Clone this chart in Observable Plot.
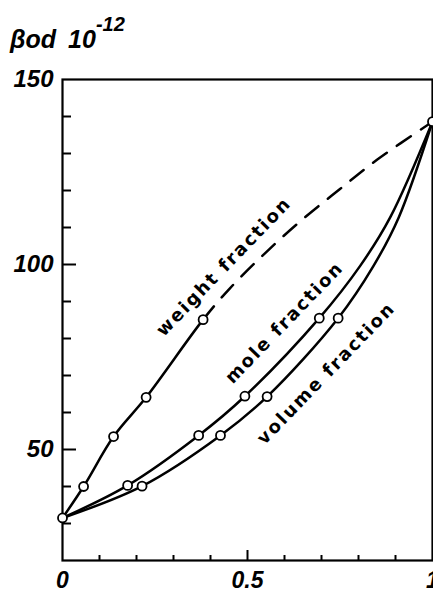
<!DOCTYPE html>
<html>
<head>
<meta charset="utf-8">
<script src="https://cdn.jsdelivr.net/npm/d3@7"></script>
<script src="https://cdn.jsdelivr.net/npm/@observablehq/plot@0.6"></script>
<style>
  body { margin: 0; background: #fff; }
  #wrap { position: relative; width: 433px; height: 599px; overflow: hidden; }
  #title { position: absolute; left: 10px; top: 25px; line-height: 1; white-space: nowrap;
           font: italic bold 25px "Liberation Sans", "DejaVu Sans", sans-serif; color: #000; }
  #title .num { margin-left: 12px; }
  #title .sup { font-size: 20px; position: relative; top: -17px; }
</style>
</head>
<body>
<div id="wrap"><div id="title">βod<span class="num">10</span><span class="sup">-12</span></div></div>
<script>
// ---- data ----
// weight fraction: measured part (solid) then dashed continuation to pure component
const weightX = [0, 0.057, 0.138, 0.226, 0.38];
const weightY = [31.5, 40.0, 53.5, 64.1, 85.1];
const weightDashX = [0.38, 0.45, 0.55, 0.65, 0.75, 0.85, 1];
const weightDashY = [85.1, 93.3, 103.3, 112.3, 120.4, 128.3, 138.6];
// mole fraction curve
const moleX = [0, 0.176, 0.368, 0.493, 0.694, 0.805, 0.886, 1];
const moleY = [31.5, 40.3, 53.8, 64.4, 85.5, 99.7, 112.8, 138.6];
// volume fraction curve
const volumeX = [0, 0.215, 0.427, 0.553, 0.745, 0.841, 0.909, 1];
const volumeY = [31.5, 40.1, 53.8, 64.3, 85.5, 99.7, 112.8, 138.6];
// measured (circled) points
const markX = [0, 1, 0.057, 0.138, 0.226, 0.38, 0.176, 0.368, 0.493, 0.694, 0.215, 0.427, 0.553, 0.745];
const markY = [31.5, 138.6, 40.0, 53.5, 64.1, 85.1, 40.3, 53.8, 64.4, 85.5, 40.1, 53.8, 64.3, 85.5];
// curve labels
const labelText = ["weight fraction", "mole fraction", "volume fraction"];
const labelX = [0.436, 0.60, 0.713];
const labelY = [99.4, 84.3, 70.6];
// ticks
const yTickLabels = [50, 100, 150];
const yMajorTicks = [50, 100];
const yMinorTicks = [30, 40, 60, 70, 80, 90, 110, 120, 130, 140];
const xTickLabels = [0, 0.5, 1];
const xMajorTicks = [0.5];
const xMinorTicks = [0.1, 0.2, 0.3, 0.4, 0.6, 0.7, 0.8, 0.9];

const toRows = (xs, ys) => xs.map((x, i) => ({x, y: ys[i]}));
const weightAll = toRows(weightX.concat(weightDashX.slice(1)), weightY.concat(weightDashY.slice(1)));
const tickFont = "'Liberation Sans', 'DejaVu Sans', sans-serif";

const plot = Plot.plot({
  width: 433,
  height: 599,
  marginTop: 79,
  marginBottom: 39,
  marginLeft: 62,
  marginRight: 1,
  style: {background: "#fff", color: "#000", overflow: "visible"},
  x: {domain: [0, 1], label: null},
  y: {domain: [20, 150], label: null},
  marks: [
    Plot.frame({stroke: "#000", strokeWidth: 2.2}),
    Plot.axisY(yTickLabels, {tickSize: 0, tickPadding: 9, fontSize: 24, fontStyle: "italic",
      fontWeight: "bold", fontFamily: tickFont, tickFormat: d => String(d), label: null}),
    Plot.axisY(yMinorTicks, {text: null, tickSize: 9, dx: 9, strokeWidth: 2, label: null}),
    Plot.axisY(yMajorTicks, {text: null, tickSize: 14, dx: 14, strokeWidth: 2, label: null}),
    Plot.axisX(xTickLabels, {tickSize: 0, tickPadding: 11, fontSize: 23, fontStyle: "italic",
      fontWeight: "bold", fontFamily: tickFont, tickFormat: d => String(d), label: null}),
    Plot.axisX(xMinorTicks, {text: null, tickSize: 5, dy: -5, strokeWidth: 2, label: null}),
    Plot.axisX(xMajorTicks, {text: null, tickSize: 10, dy: -10, strokeWidth: 2, label: null}),
    // weight curve: one smooth line; the part beyond the last measured point is dashed below
    Plot.line(weightAll, {x: "x", y: "y", curve: "catmull-rom", stroke: "#000", strokeWidth: 2.5}),
    Plot.line(toRows(moleX, moleY), {x: "x", y: "y", curve: "catmull-rom", stroke: "#000", strokeWidth: 2.5}),
    Plot.line(toRows(volumeX, volumeY), {x: "x", y: "y", curve: "catmull-rom", stroke: "#000", strokeWidth: 2.5}),
    Plot.dot(toRows(markX, markY), {x: "x", y: "y", r: 4.5, fill: "#fff", stroke: "#000", strokeWidth: 1.8}),
    Plot.text(labelText, {x: (d, i) => labelX[i], y: (d, i) => labelY[i], text: d => d, rotate: -46,
      fontSize: 18, fontWeight: "bold", fontFamily: "'DejaVu Sans', sans-serif", fill: "#000",
      textAnchor: "middle", lineAnchor: "middle"})
  ]
});
document.getElementById("wrap").prepend(plot);
d3.select(plot).selectAll('g[aria-label="text"] text').style("letter-spacing", "2px");

// dash the weight curve beyond its last measured point
const wPath = d3.select(plot).select('g[aria-label="line"] path').node();
if (wPath && wPath.getTotalLength) {
  const total = wPath.getTotalLength();
  const target = plot.scale("x").apply(weightX[weightX.length - 1]);
  let lo = 0, hi = total;
  for (let k = 0; k < 40; k++) {
    const mid = (lo + hi) / 2;
    if (wPath.getPointAtLength(mid).x < target) lo = mid; else hi = mid;
  }
  const dash = [lo, 0];
  for (let l = lo; l < total + 30; l += 29) dash.push(17, 12);
  wPath.setAttribute("stroke-dasharray", dash.map(v => v.toFixed(2)).join(","));
}
</script>
</body>
</html>
